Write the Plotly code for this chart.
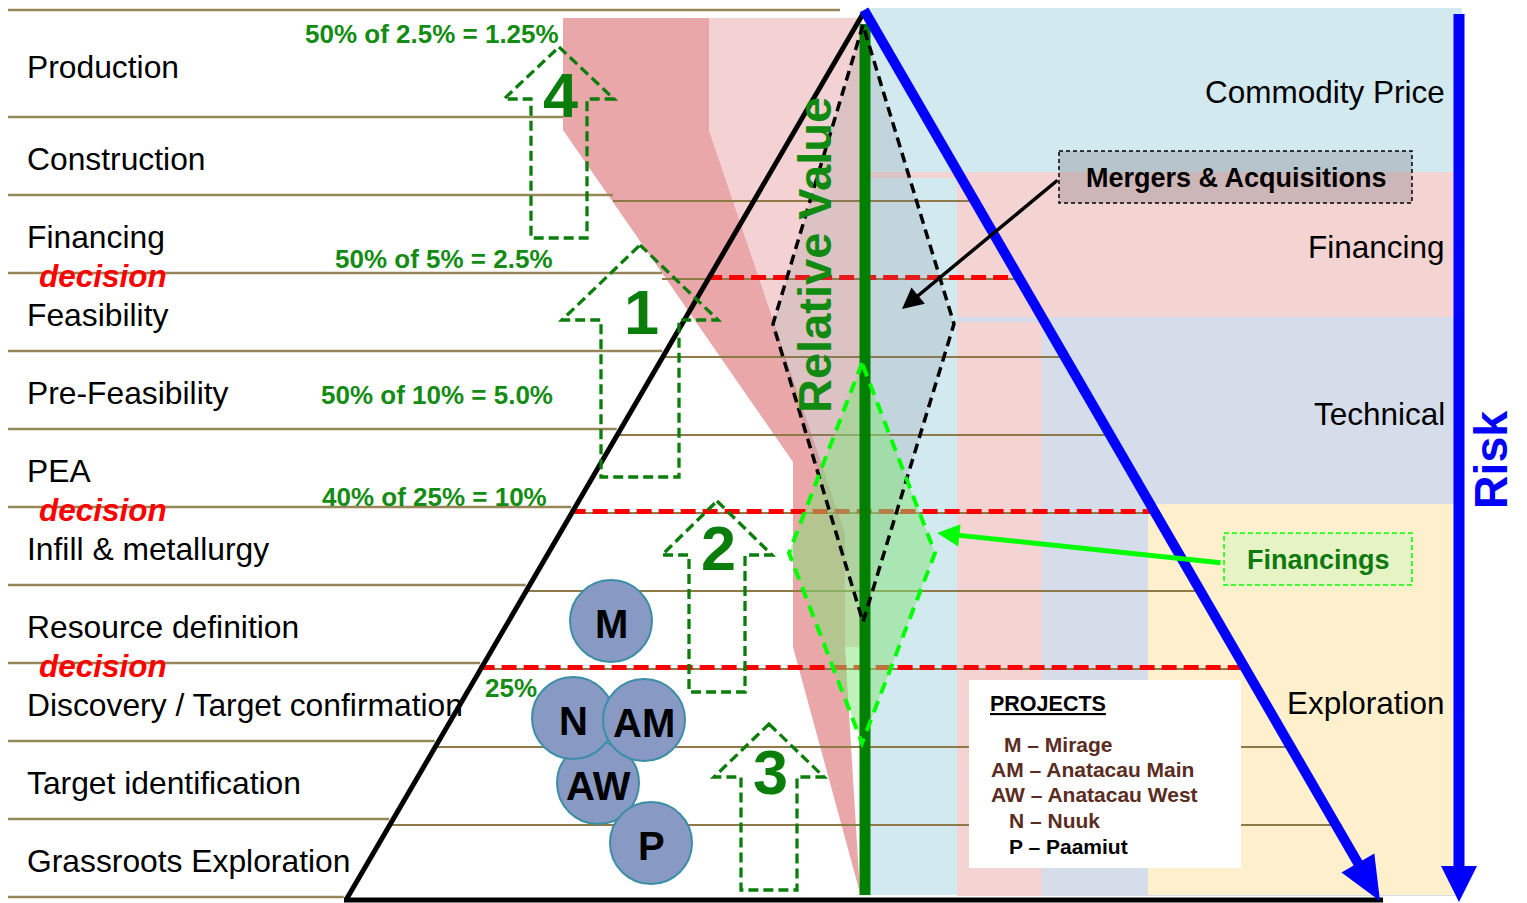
import plotly.graph_objects as go

W, H = 1527, 903
FONT = "Liberation Sans, Arial, Helvetica, sans-serif"

# ---------------------------------------------------------------- content --
STAGES = ["Production", "Construction", "Financing", "Feasibility",
          "Pre-Feasibility", "PEA", "Infill & metallurgy",
          "Resource definition", "Discovery / Target confirmation",
          "Target identification", "Grassroots Exploration"]
DECISION_AFTER = ["Financing", "PEA", "Resource definition"]
DECISION_TEXT = "decision"

SUCCESS_ODDS = ["50% of 2.5% = 1.25%", "50% of 5% = 2.5%",
                "50% of 10% = 5.0%", "40% of 25% = 10%", "25%"]

RISK_TYPES = ["Commodity Price", "Financing", "Technical", "Exploration"]
RISK_TITLE = "Risk"
VALUE_TITLE = "Relative Value"

STEP_LABELS = ["4", "1", "2", "3"]

PROJECT_CODES = ["M", "AM", "AW", "N", "P"]
PROJECT_NAMES = ["Mirage", "Anatacau Main", "Anatacau West", "Nuuk", "Paamiut"]
LEGEND_TITLE = "PROJECTS"

MA_LABEL = "Mergers & Acquisitions"
FIN_LABEL = "Financings"

# ----------------------------------------------------------------- layout --
ROW_LINES = [10] + [117 + 78 * k for k in range(11)]
APEX = (864, 12)
BASE_Y = 900
LEFT_FOOT = 346
RIGHT_FOOT = 1380


def edge_left(y):
    return APEX[0] - (y - APEX[1]) * (APEX[0] - LEFT_FOOT) / (BASE_Y - APEX[1])


def edge_right(y):
    return APEX[0] + (y - APEX[1]) * (RIGHT_FOOT - APEX[0]) / (BASE_Y - APEX[1])


LINE_FIXED_END = [840, 563, 613, 662]
ODDS_POS = [(561, 34, "right"), (555, 259, "right"), (555, 395, "right"),
            (549, 497, "right"), (483, 688, "left")]
RISK_Y = [92, 247, 414, 703]
STEP_GEOM = [  # cx, tip, head base, head half-width, shaft half-width, bottom, label y
    (559, 47, 99, 55, 28, 238, 95),
    (640, 245, 320, 78, 39, 477, 312),
    (717, 501, 555, 55, 28, 692, 548),
    (769, 724, 777, 55, 28, 890, 772),
]
BUBBLE_XY = {"M": (611, 621), "AW": (598, 783), "N": (573, 718),
             "AM": (644, 720), "P": (651, 843)}
BUBBLE_ORDER = ["M", "AW", "N", "AM", "P"]
LEGEND_X = [1002, 989, 989, 1007, 1007]
LEGEND_Y = [744, 769, 794, 820, 846]
LEGEND_COLORS = ["#5A2C22", "#5A2C22", "#5A2C22", "#5A2C22", "#000000"]

OLIVE = "#978758"
OLIVE_DARK = "#8E7A47"
GREEN_TXT = "#148C14"
STEP_GREEN = "#0B7D0B"

shapes = []
anns = []


def esc(s):
    return s.replace("&", "&amp;")


def rect(x0, y0, x1, y1, fill, color=None, width=0, dash=None, layer="above"):
    shapes.append(dict(type="rect", xref="x", yref="y", x0=x0, y0=y0, x1=x1, y1=y1,
                       fillcolor=fill, layer=layer,
                       line=dict(width=width, color=color or "rgba(0,0,0,0)", dash=dash)))


def poly(pts, fill=None, color=None, width=0, dash=None, closed=True, layer="above"):
    d = "M " + " L ".join(f"{x},{y}" for x, y in pts) + (" Z" if closed else "")
    shapes.append(dict(type="path", xref="x", yref="y", path=d, layer=layer,
                       fillcolor=fill or "rgba(0,0,0,0)",
                       line=dict(width=width, color=color or "rgba(0,0,0,0)", dash=dash)))


def seg(x0, y0, x1, y1, color, width, dash=None, layer="above"):
    shapes.append(dict(type="line", xref="x", yref="y", x0=x0, y0=y0, x1=x1, y1=y1,
                       layer=layer, line=dict(width=width, color=color, dash=dash)))


def label(x, y, s, size, color="black", xanchor="left", angle=0, yshift=0):
    anns.append(dict(x=x, y=y, xref="x", yref="y", text=s, showarrow=False,
                     xanchor=xanchor, yanchor="middle", textangle=angle,
                     yshift=yshift,
                     font=dict(family=FONT, size=size, color=color)))


# -------------------------------------------------- risk bands on the right --
RISK_RIGHT = 1462
rect(867, 8, RISK_RIGHT, 895, "#D3E9F0", layer="below")
rect(957, 172, RISK_RIGHT, 896, "#F4D3D3", layer="below")
rect(870, 172, 957, 178, "#F4D3D3", layer="below")
rect(1042, 317, RISK_RIGHT, 896, "#D6DDEA", layer="below")
rect(957, 317, 1042, 322, "#D6DDEA", layer="below")
rect(1148, 504, RISK_RIGHT, 895, "#FFF0CD", layer="below")

# -------------------------------------------------------- value funnel bands --
poly([(709, 18), (862, 18), (862, 647), (845, 647), (845, 533), (709, 130)],
     fill="#F4D2D3", layer="below")
poly([(563, 18), (709, 18), (709, 130), (845, 533), (845, 647), (860, 893),
      (793, 647), (793, 462), (563, 130)], fill="#E9A7A9", layer="below")

# ------------------------------------------------------------ row rulings --
line_ends = []
for i, y in enumerate(ROW_LINES):
    end = LINE_FIXED_END[i] if i < len(LINE_FIXED_END) else edge_left(y) - 4
    line_ends.append(end)
    seg(8, y, end, y, OLIVE, 2.5, layer="below")
for i in range(2, len(ROW_LINES) - 1):
    y = ROW_LINES[i] + 6
    seg(line_ends[i], y, edge_right(y) + 5, y, OLIVE_DARK, 2, layer="below")

# ----------------------------------------------------------- decision gates --
for name in DECISION_AFTER:
    y = ROW_LINES[STAGES.index(name) + 1] + 4.5
    seg(edge_left(y) - 2, y, edge_right(y) - 2, y, "#FF0000", 5, dash="15px,7px")

# ------------------------------------------------------------ diamonds --
poly([(863, 25), (773, 324), (863, 622), (954, 324)], fill="rgba(132,130,142,0.2)")
poly([(862, 363), (789, 553), (862, 743), (935, 553)], fill="rgba(128,228,120,0.5)")
seg(865, 24, 865, 895, "#008000", 11)
poly([(863, 25), (773, 324), (863, 622), (954, 324)], color="black", width=3.5,
     dash="10px,6px")
poly([(862, 363), (789, 553), (862, 743), (935, 553)], color="#00FF00", width=4,
     dash="12px,8px")

# ------------------------------------------------------------- pyramid --
seg(APEX[0], APEX[1], LEFT_FOOT, BASE_Y, "black", 5)
seg(LEFT_FOOT - 2, BASE_Y, 1383, BASE_Y, "black", 5)
# blue risk edge with its arrow head
dx, dy = RIGHT_FOOT - APEX[0], BASE_Y - APEX[1]
ln = (dx * dx + dy * dy) ** 0.5
ux, uy = dx / ln, dy / ln
tip = (RIGHT_FOOT, BASE_Y + 1)
hl, hw = 44, 19
bx, by = tip[0] - hl * ux, tip[1] - hl * uy
seg(APEX[0], APEX[1] - 2, bx + 3 * ux, by + 3 * uy, "#0000FF", 10)
poly([tip, (bx - hw * uy, by + hw * ux), (bx + hw * uy, by - hw * ux)], fill="#0000FF")

# --------------------------------------------------------- step arrows --
for (cx, t, b, hw_, sw, bot, ly), num in zip(STEP_GEOM, STEP_LABELS):
    poly([(cx, t), (cx + hw_, b), (cx + sw, b), (cx + sw, bot), (cx - sw, bot),
          (cx - sw, b), (cx - hw_, b)], color=STEP_GREEN, width=3.3, dash="10px,5px")
    label(cx + 1, ly, f"<b>{num}</b>", 63, STEP_GREEN, "center")

# ------------------------------------------------------------ call-out boxes --
rect(969, 680, 1241, 868, "white")
rect(1059, 151, 1412, 203, "rgba(115,115,120,0.3)", "black", 1.5, "4px,3px")
rect(1224, 533, 1412, 585, "#E6F3C4", "#00FF00", 1.5, "5px,3px")

# ------------------------------------------------------------ risk arrow --
seg(1459, 14, 1459, 870, "#0000FF", 11)
poly([(1441, 866), (1477, 866), (1459, 902)], fill="#0000FF")

# -------------------------------------------------------------- texts --
for i, s in enumerate(STAGES):
    y = (ROW_LINES[i] + ROW_LINES[i + 1]) / 2 + 3
    label(25, y, esc(s), 31.8)
for name in DECISION_AFTER:
    y = ROW_LINES[STAGES.index(name) + 1] + 3
    label(37, y, f"<b><i>{DECISION_TEXT}</i></b>", 31.5, "#FF0000")

for s, (x, y, anc) in zip(SUCCESS_ODDS, ODDS_POS):
    label(x, y, f"<b>{s}</b>", 26, GREEN_TXT, anc)

for s, y in zip(RISK_TYPES, RISK_Y):
    label(1447, y, s, 31.5, "black", "right")

label(814, 255, f"<b>{VALUE_TITLE}</b>", 47, "#108A10", "center", -90)
label(1491, 460, f"<b>{RISK_TITLE}</b>", 46.5, "#0000FF", "center", -90)

label(1236, 178, f"<b>{esc(MA_LABEL)}</b>", 27, "black", "center")
label(1318, 560, f"<b>{FIN_LABEL}</b>", 27, "#0E7A0E", "center")

label(988, 704, f"<b><u>{LEGEND_TITLE}</u></b>", 21.5, "black")
for code, name, x, y, c in zip(PROJECT_CODES, PROJECT_NAMES, LEGEND_X, LEGEND_Y,
                               LEGEND_COLORS):
    label(x, y, f"<b>{code} \u2013 {name}</b>", 21, c)

# project codes inside the bubbles
for c in BUBBLE_ORDER:
    label(BUBBLE_XY[c][0], BUBBLE_XY[c][1], f"<b>{c}</b>", 40, "black", "center",
          yshift=-3)

# call-out arrows
anns.append(dict(x=902, y=309, ax=1059, ay=179, xref="x", yref="y", axref="x",
                 ayref="y", text="", showarrow=True, arrowhead=2, arrowsize=1.2,
                 arrowwidth=3.5, arrowcolor="black", standoff=0, startstandoff=0))
anns.append(dict(x=937, y=533, ax=1222, ay=563, xref="x", yref="y", axref="x",
                 ayref="y", text="", showarrow=True, arrowhead=2, arrowsize=0.9,
                 arrowwidth=5, arrowcolor="#00FF00", standoff=0, startstandoff=0))

# ------------------------------------------------------------- projects --
bubbles = go.Scatter(
    x=[BUBBLE_XY[c][0] for c in BUBBLE_ORDER],
    y=[BUBBLE_XY[c][1] for c in BUBBLE_ORDER],
    mode="markers", hoverinfo="skip",
    marker=dict(size=82, color="#8899C4", line=dict(width=2, color="#3B8EA6")),
)

fig = go.Figure(bubbles)
fig.update_layout(
    width=W, height=H, autosize=False,
    margin=dict(l=0, r=0, t=0, b=0, pad=0),
    paper_bgcolor="white", plot_bgcolor="white", showlegend=False,
    xaxis=dict(range=[0, W], visible=False, fixedrange=True),
    yaxis=dict(range=[H, 0], visible=False, fixedrange=True),
    shapes=shapes, annotations=anns,
)
fig.write_html("out.html", config={"displayModeBar": False})
